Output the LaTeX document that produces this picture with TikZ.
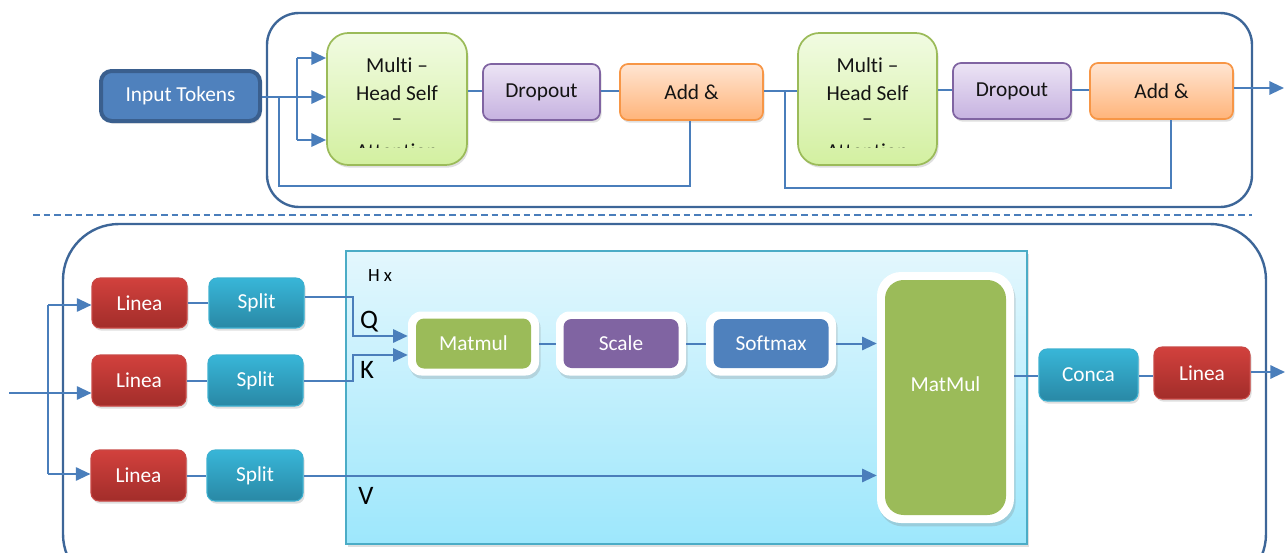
\documentclass[tikz,border=0pt]{standalone}
\usepackage{fontspec}
\setmainfont{Carlito}[Ligatures=NoCommon]
\usetikzlibrary{arrows.meta,shadows,calc}
\definecolor{conn}{HTML}{4A7EBB}
\definecolor{outerc}{HTML}{3D6698}
\definecolor{tokfill}{HTML}{4F81BD}
\definecolor{tokdraw}{HTML}{3A5F8E}
\definecolor{mhtop}{HTML}{F1FBE2}
\definecolor{mhbot}{HTML}{D3F0A0}
\definecolor{mhdraw}{HTML}{9BBB59}
\definecolor{prtop}{HTML}{ECE4F5}
\definecolor{prbot}{HTML}{C6B2E0}
\definecolor{prdraw}{HTML}{8064A2}
\definecolor{ortop}{HTML}{FFE5D2}
\definecolor{orbot}{HTML}{FFB47A}
\definecolor{ordraw}{HTML}{F79646}
\definecolor{rdtop}{HTML}{D2413D}
\definecolor{rdbot}{HTML}{A22D2A}
\definecolor{rddraw}{HTML}{C84845}
\definecolor{tltop}{HTML}{38B6D8}
\definecolor{tlbot}{HTML}{2988A5}
\definecolor{tldraw}{HTML}{3DB0D0}
\definecolor{pntop}{HTML}{E3F7FD}
\definecolor{pnbot}{HTML}{9DE7FC}
\definecolor{pndraw}{HTML}{4BACC6}
\definecolor{grn}{HTML}{9BBB59}
\definecolor{prp}{HTML}{8064A2}
\definecolor{blu}{HTML}{4F81BD}
\definecolor{txt}{HTML}{141414}
\begin{document}
\begin{tikzpicture}[x=0.75pt,y=-0.75pt,
  sz/.style 2 args={minimum width=#1*0.75pt, minimum height=#2*0.75pt},
  tip/.style={-{Triangle[length=11pt,width=10pt]}},
  conn/.style={draw=conn, line width=1.5pt},
  lbl/.style={font=\fontsize{16}{19}\selectfont},
  shd/.style={drop shadow={opacity=0.25, shadow xshift=1.2pt, shadow yshift=-2pt}},
  base/.style={rounded corners=6pt, inner sep=0pt, lbl, shd},
  tokbox/.style={base, rounded corners=8pt, fill=tokfill, draw=tokdraw, line width=3pt, text=white},
  mhbox/.style={base, rounded corners=16pt, top color=mhtop, bottom color=mhbot, draw=mhdraw, line width=1.3pt},
  dropbox/.style={base, top color=prtop, bottom color=prbot, draw=prdraw, line width=1.3pt, text=txt},
  addbox/.style={base, top color=ortop, bottom color=orbot, draw=ordraw, line width=1.3pt, text=txt},
  redbox/.style={base, top color=rdtop, bottom color=rdbot, draw=rddraw, line width=0.8pt, text=white},
  tealbox/.style={base, top color=tltop, bottom color=tlbot, draw=tldraw, line width=0.8pt, text=white},
  panel/.style={inner sep=0pt, top color=pntop, bottom color=pnbot, draw=pndraw, line width=1.4pt, drop shadow={opacity=0.25, shadow xshift=1.5pt, shadow yshift=-2pt}},
  whiteouter/.style={inner sep=0pt, rounded corners=10pt, fill=white, drop shadow={opacity=0.25, shadow xshift=1.2pt, shadow yshift=-2.5pt}},
  innerbox/.style={inner sep=0pt, rounded corners=6pt, lbl, text=white},
  bigbox/.style={draw=outerc, line width=1.8pt},
  qkv/.style={font=\fontsize{20}{23}\selectfont, text=black}
]
\useasboundingbox (0,0) rectangle (1286,553);
\clip (0,0) rectangle (1286,553);

% ---------- top encoder block ----------
\draw[bigbox, rounded corners=24pt] (267,13) rectangle (1252,207);
\draw[conn, line width=1.2pt, dash pattern=on 5pt off 3pt] (33,215) -- (1252,215);

\node[tokbox, sz={159}{50}] (tok) at (180.5,96) {Input Tokens};

\node[mhbox, sz={140}{132}] (mh1) at (397,99) {};
\begin{scope}
  \clip (327,33) rectangle (467,147.5);
  \node[lbl, text=txt] (mh1a) at (397,65) {Multi –};
  \node[lbl, text=txt] (mh1b) at (397,93.5) {Head Self};
  \node[lbl, text=txt] (mh1c) at (397,122) {–};
  \node[lbl, text=txt] (mh1d) at (397,151) {Attention};
\end{scope}
\node[dropbox, sz={117}{56}] (dr1) at (541.5,92) {Dropout};
\node[addbox, sz={143}{56}] (add1) at (691.5,92) {Add \&};

\node[mhbox, sz={139}{132}] (mh2) at (867.5,99) {};
\begin{scope}
  \clip (798,33) rectangle (937,147.5);
  \node[lbl, text=txt] (mh2a) at (867.5,65) {Multi –};
  \node[lbl, text=txt] (mh2b) at (867.5,93.5) {Head Self};
  \node[lbl, text=txt] (mh2c) at (867.5,122) {–};
  \node[lbl, text=txt] (mh2d) at (867.5,151) {Attention};
\end{scope}
\node[dropbox, sz={118}{56}] (dr2) at (1012,91) {Dropout};
\node[addbox, sz={143}{56}] (add2) at (1161.5,91) {Add \&};

% top connectors
\coordinate (ja1) at (297,58);
\coordinate (ja3) at (297,140);
\coordinate (r1) at (279,97);
\coordinate (r1b) at (279,186);
\coordinate (r2) at (785,91);
\coordinate (r2b) at (785,188);
\coordinate (out1) at (1284,88);
\draw[conn, tip] (tok.east |- r1) -- (mh1.west |- r1);
\draw[conn] (ja1) -- (ja3);
\draw[conn, tip] (ja1) -- (mh1.west |- ja1);
\draw[conn, tip] (ja3) -- (mh1.west |- ja3);
\draw[conn] (r1) -- (r1b) -| ($(add1.south)+(-1.5,0)$);
\draw[conn] (mh1.east |- r2) -- (dr1.west |- r2);
\draw[conn] (dr1.east |- r2) -- (add1.west |- r2);
\draw[conn] (add1.east |- r2) -- (mh2.west |- r2);
\draw[conn] (r2) -- (r2b) -| ($(add2.south)+(9,0)$);
\draw[conn] (mh2.east |- 0,90) -- (dr2.west |- 0,90);
\draw[conn] (dr2.east |- 0,90) -- (add2.west |- 0,90);
\draw[conn, tip] (add2.east |- out1) -- (out1);

% ---------- bottom multi-head attention block ----------
\draw[bigbox, rounded corners=42pt] (63,224) rectangle (1266,590);

\node[panel, sz={681}{293}] (att) at (686.5,397.5) {};
\node[font=\fontsize{14}{16}\selectfont, text=black] (hx) at (380,276) {H x};

\node[redbox, sz={95}{50}] (L1) at (139.5,303) {Linea};
\node[redbox, sz={94}{51}] (L2) at (139,380.5) {Linea};
\node[redbox, sz={95}{51}] (L3) at (138.5,475.5) {Linea};
\node[tealbox, sz={95}{50}] (S1) at (256.5,303) {Split};
\node[tealbox, sz={95}{51}] (S2) at (255.5,380.5) {Split};
\node[tealbox, sz={96}{51}] (S3) at (255,475.5) {Split};

\node[whiteouter, sz={131}{64}] (mmo) at (473.5,343.5) {};
\node[innerbox, fill=grn, sz={115}{50}] (mmi) at (473.5,343.5) {Matmul};
\node[whiteouter, sz={130}{64}] (sco) at (621,343.5) {};
\node[innerbox, fill=prp, sz={115}{49}] (sci) at (621,343.5) {Scale};
\node[whiteouter, sz={130}{64}] (smo) at (771,343.5) {};
\node[innerbox, fill=blu, sz={115}{49}] (smi) at (771,343.5) {Softmax};
\node[whiteouter, rounded corners=18pt, sz={137}{251}] (MMo) at (945.5,397.5) {};
\node[innerbox, rounded corners=14pt, fill=grn, sz={121}{235}] (MMi) at (945.5,397.5) {};
\node[lbl, text=white] (MMt) at (945.5,384) {MatMul};

\node[tealbox, sz={99}{52}] (conca) at (1088.5,375) {Conca};
\node[redbox, sz={96}{52}] (Lout) at (1202,373) {Linea};

\node[qkv] (Qt) at (369,322) {Q};
\node[qkv] (Kt) at (367,370) {K};
\node[qkv] (Vt) at (366,496) {V};

% bottom connectors
\coordinate (in) at (9,393);
\coordinate (v1) at (48,305);
\coordinate (v3) at (48,474);
\coordinate (qx) at (353,336);
\coordinate (kx) at (353,355);
\coordinate (out2) at (1285,372);
\coordinate (cy) at (0,376);
\draw[conn, tip] (in) -- (L2.west |- in);
\draw[conn] (v1) -- (v3);
\draw[conn, tip] (v1) -- (L1.west |- v1);
\draw[conn, tip] (v3) -- (L3.west |- v3);
\draw[conn] (L1.east) -- (S1.west);
\draw[conn] (L2.east) -- (S2.west);
\draw[conn] (L3.east) -- (S3.west);
\draw[conn, tip] ($(S1.east)+(0,-6)$) -| (qx) -- (mmo.west |- qx);
\draw[conn, tip] (S2.east) -| (kx) -- (mmo.west |- kx);
\draw[conn, tip] (S3.east) -- (MMo.west |- S3.east);
\draw[conn] (mmo.east) -- (sco.west);
\draw[conn] (sco.east) -- (smo.west);
\draw[conn, tip] (smo.east) -- (MMo.west |- smo.east);
\draw[conn] (MMo.east |- cy) -- (conca.west |- cy);
\draw[conn] (conca.east |- cy) -- (Lout.west |- cy);
\draw[conn, tip] (Lout.east |- out2) -- (out2);
\end{tikzpicture}
\end{document}
